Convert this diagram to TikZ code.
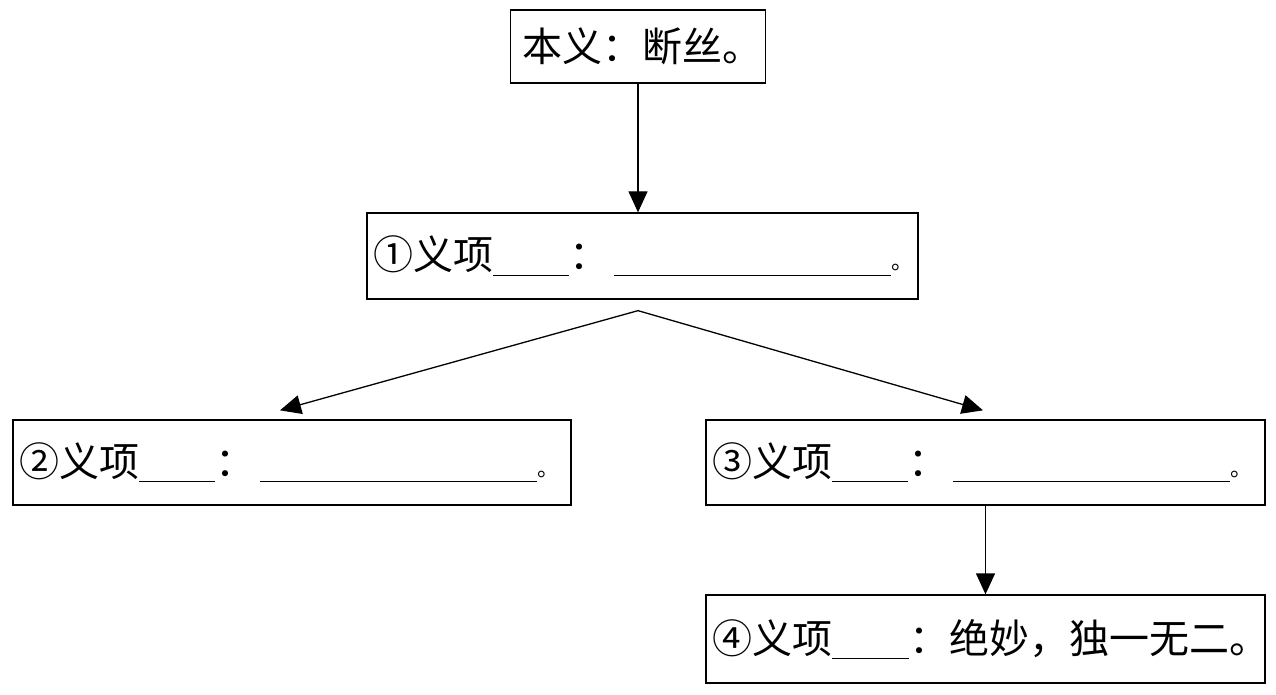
\documentclass[tikz,border=0pt]{standalone}
\usepackage{fontspec}
\setmainfont{Noto Sans CJK SC}
\usetikzlibrary{arrows.meta,calc}
\newcommand\blankline[1]{\rule[-6pt]{#1}{1.3pt}}
\newcommand\smallstop{{\fontsize{22}{22}\selectfont 。}}
\newcommand\lefttext[2]{\makebox[#1][l]{#2}}
\begin{document}
\begin{tikzpicture}[x=1pt,y=-1pt,
  font=\fontsize{40}{48}\selectfont,
  box/.style={draw, line width=1.3pt, inner ysep=0pt},
  leftbox/.style={box, inner xsep=6pt},
  arr/.style={-{Triangle[length=21pt,width=19pt]}, line width=1.3pt}]
\useasboundingbox (0,0) rectangle (1276,695);
\node[box, minimum width=252pt, minimum height=73pt] (top) at (638,46.5) {\hspace{8pt}本义：断丝。};
\node[leftbox, minimum width=551pt, minimum height=86pt] (b1) at (642.5,256)
  {\lefttext{539pt}{①义项\blankline{76pt}：\hspace{5pt}\blankline{277pt}\smallstop}};
\node[leftbox, minimum width=558pt, minimum height=85pt] (b2) at (292,462.5)
  {\lefttext{546pt}{②义项\blankline{76pt}：\hspace{5pt}\blankline{277pt}\smallstop}};
\node[leftbox, minimum width=559pt, minimum height=85pt] (b3) at (985.5,462.5)
  {\lefttext{547pt}{③义项\blankline{76pt}：\hspace{5pt}\blankline{277pt}\smallstop}};
\node[leftbox, minimum width=559pt, minimum height=88pt] (b4) at (985.5,639)
  {\lefttext{547pt}{④义项\blankline{77pt}：绝妙，独一无二。}};
\draw[arr] (top.south) -- (top.south |- b1.north);
\coordinate (fork) at ($(b1.south)+(-4.5,11)$);
\draw[arr] (fork) -- ($(b2.north)+(-12,-9)$);
\draw[arr] (fork) -- ($(b3.north)+(-2.5,-9)$);
\draw[arr] (b3.south) -- (b4.north);
\end{tikzpicture}
\end{document}
